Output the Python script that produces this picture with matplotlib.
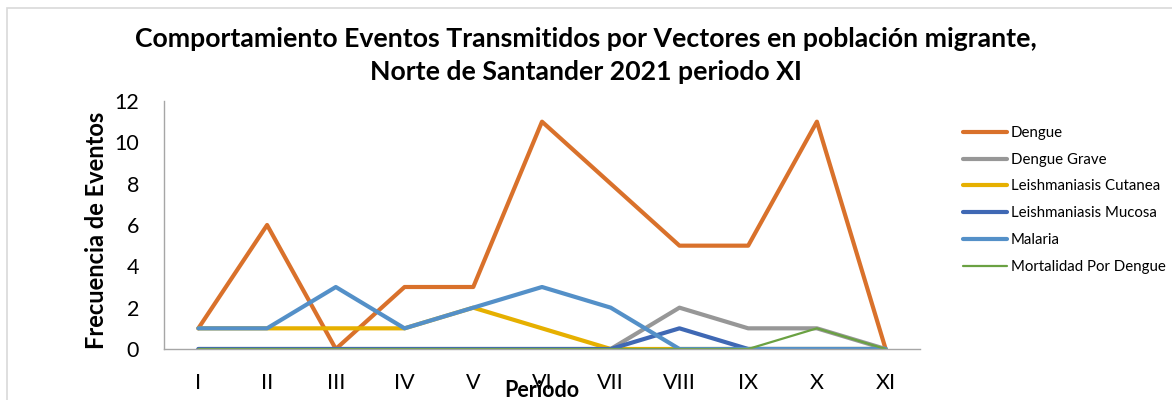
import matplotlib
matplotlib.use('Agg')
import matplotlib.pyplot as plt
from matplotlib.patches import Rectangle

periodos = ['I', 'II', 'III', 'IV', 'V', 'VI', 'VII', 'VIII', 'IX', 'X', 'XI']
dengue = [1, 6, 0, 3, 3, 11, 8, 5, 5, 11, 0]
dengue_grave = [0, 0, 0, 0, 0, 0, 0, 2, 1, 1, 0]
leish_cutanea = [1, 1, 1, 1, 2, 1, 0, 0, 0, 0, 0]
leish_mucosa = [0, 0, 0, 0, 0, 0, 0, 1, 0, 0, 0]
malaria = [1, 1, 3, 1, 2, 3, 2, 0, 0, 0, 0]
mortalidad = [0, 0, 0, 0, 0, 0, 0, 0, 0, 1, 0]

series = [
    ('Dengue', dengue, '#D9712B', 3.0),
    ('Dengue Grave', dengue_grave, '#979797', 3.0),
    ('Leishmaniasis Cutanea', leish_cutanea, '#E6B000', 3.0),
    ('Leishmaniasis Mucosa', leish_mucosa, '#3F68B4', 3.0),
    ('Malaria', malaria, '#5490C8', 3.0),
    ('Mortalidad Por Dengue', mortalidad, '#6AA142', 1.6),
]

plt.rcParams['font.family'] = ['Lato', 'DejaVu Sans']

fig = plt.figure(figsize=(11.72, 4.0), dpi=100)
fig.patches.append(Rectangle((7 / 1172, -0.1), 1.2, 1 - 8 / 400 + 0.1,
                             transform=fig.transFigure, fill=False,
                             edgecolor='#D9D9D9', linewidth=1.2))

ax = fig.add_axes([164 / 1172, 1 - 349 / 400, 756 / 1172, 248 / 400])
x = range(len(periodos))
for name, vals, col, lw in series:
    ax.plot(x, vals, color=col, linewidth=lw, label=name,
            solid_capstyle='round', solid_joinstyle='round')

ax.set_xlim(-0.5, len(periodos) - 0.5)
ax.set_ylim(0, 12)
ax.set_yticks(range(0, 13, 2))
ax.set_xticks(list(x))
ax.set_xticklabels(periodos)
ax.tick_params(axis='both', length=0, labelsize=15.5, colors='black')
ax.tick_params(axis='x', pad=17)
ax.tick_params(axis='y', pad=18)
for s in ['top', 'right']:
    ax.spines[s].set_visible(False)
for s in ['left', 'bottom']:
    ax.spines[s].set_color('#A6A6A6')
    ax.spines[s].set_linewidth(1.0)

ax.set_xlabel('Periodo', fontsize=15.5, fontweight='bold')
ax.xaxis.set_label_coords(0.5, -0.125)
ax.set_ylabel('Frecuencia de Eventos', fontsize=17, fontweight='bold')
ax.yaxis.set_label_coords(-0.074, 0.48)

fig.text(0.5, 0.932, 'Comportamiento Eventos Transmitidos por Vectores en población migrante,\n'
         'Norte de Santander 2021 periodo XI', ha='center', va='top',
         fontsize=19.2, fontweight='bold', linespacing=1.42)

fig.legend(loc='upper left', bbox_to_anchor=(963 / 1172, 1 - 126 / 400),
           frameon=False, fontsize=10.8, handlelength=2.9, handletextpad=0.3,
           labelspacing=0.85, borderaxespad=0, borderpad=0)

fig.savefig('out.png', dpi=100)
